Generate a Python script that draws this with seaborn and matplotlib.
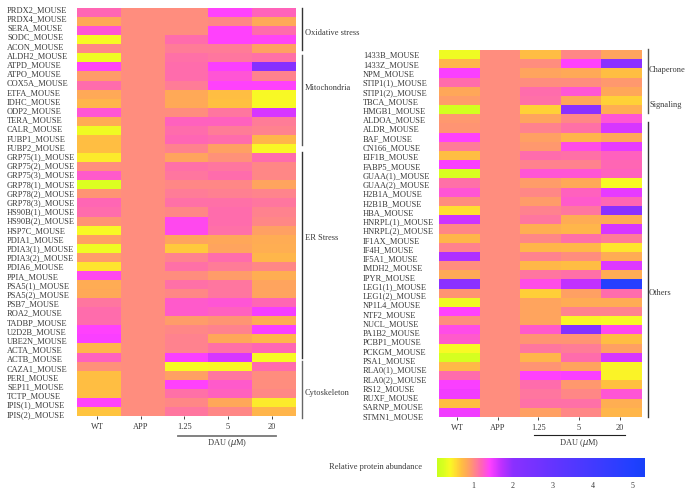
import numpy as np
import pandas as pd
import matplotlib
matplotlib.use("Agg")
import matplotlib.pyplot as plt
from matplotlib.colors import LinearSegmentedColormap
from matplotlib.lines import Line2D
import seaborn as sns

conditions = ["WT", "APP", "1.25", "5", "20"]

left_proteins = ["PRDX2","PRDX4","SERA","SODC","ACON","ALDH2","ATPD","ATPO","COX5A","ETFA","IDHC","ODP2","TERA","CALR","FUBP1","FUBP2",
    "GRP75(1)","GRP75(2)","GRP75(3)","GRP78(1)","GRP78(2)","GRP78(3)","HS90B(1)","HS90B(2)","HSP7C","PDIA1","PDIA3(1)","PDIA3(2)","PDIA6","PPIA",
    "PSA5(1)","PSA5(2)","PSB7","ROA2","TADBP","U2D2B","UBE2N","ACTA","ACTB","CAZA1","PERI","SEP11","TCTP","IPIS(1)","IPIS(2)"]
left_wt = [1.2,.85,1.3,.42,1.03,.38,1.4,.92,1.17,.85,.78,1.3,.83,.38,.71,.71,
    .5,1,1.27,.28,.96,1.2,1.17,.96,.43,.9,.38,.92,.53,1.37,
    .83,.85,1.12,1.17,1.17,1.42,1.45,.78,1.23,.98,.71,.71,.71,1.42,.68]
left_125 = [1,1,1,1.17,1.09,1.15,1.17,1.17,1.09,.85,.85,1,1.23,1.17,1.2,1.06,
    .88,1.15,1.12,1.03,1.09,1.15,1.03,1.37,1.37,.88,.66,1.06,1.15,1,
    1.15,1.03,1.27,1.27,.92,1.03,1.06,1.06,1.45,.42,.9,1.42,1.15,1.03,1.12]
left_5 = [1.42,1.03,1.42,1.42,1.09,1.12,1.45,1.3,1.42,.71,.7,1.12,1.23,1.09,1.17,.9,
    .98,1.12,1.17,1.03,1.07,1.15,1.17,1.17,1.15,.86,.88,1.17,1.09,.92,
    1.12,1.12,1.3,1.23,.96,1.06,.86,1.15,1.6,.44,1.12,1.27,1.23,.86,1.03]
left_20 = [1.22,.85,1.17,1.4,.9,1.15,2.1,1.06,1.42,.43,.43,1.6,1.09,1.06,.77,.44,
    1.17,1.03,1.03,.88,1.05,1.12,1.06,1.03,.9,.83,.82,.77,1.03,.82,
    .88,.88,1.2,1.47,.83,1.45,.78,1.2,.42,1.17,1,1,1.03,.5,.78]

right_proteins = ["1433B","1433Z","NPM","STIP1(1)","STIP1(2)","TBCA","HMGB1","ALDOA","ALDR","BAF","CN166","EIF1B","FABP5","GUAA(1)","GUAA(2)",
    "H2B1A","H2B1B","HBA","HNRPL(1)","HNRPL(2)","IF1AX","IF4H","IF5A1","IMDH2","IPYR","LEG1(1)","LEG1(2)","NP1L4","NTF2","NUCL",
    "PA1B2","PCBP1","PCKGM","PSA1","RLA0(1)","RLA0(2)","RS12","RUXF","SARNP","STMN1"]
right_wt = [.38,.78,1.45,1.17,.86,.92,.2,.94,.96,1.42,1.09,.72,1.45,.26,1.15,
    1.3,1,.56,1.65,1.03,.77,1.06,1.8,1,.85,2.0,.96,.38,1.42,1,
    1.35,1.27,.43,.23,.75,1.17,1.45,1.49,.72,1.49]
right_125 = [.72,1,.88,1,1.17,1.15,.62,.88,1.06,.9,.94,1.17,1.06,1.3,.92,
    1.03,.92,1.06,1.12,.82,1.03,.77,1.06,.75,1.12,1.35,.63,.88,.88,.88,
    1.27,.96,1.12,.78,.96,1.42,1.17,1.12,1.15,.9]
right_5 = [1.03,1.42,.85,1,1.3,.86,2.0,1.03,1.15,.78,1.35,1.15,1.06,1.3,.85,
    1.23,1.27,1.12,.83,.77,1.15,.75,1,.72,1.15,1.7,.9,.83,1.06,.45,
    2.2,.96,1.09,1.17,.88,1.45,.94,1.03,1.15,1.03]
right_20 = [.88,2.0,.71,.94,.86,.62,.82,1.3,1.6,.86,1.53,1.23,1.2,1.23,.42,
    1.53,1.2,2.0,.83,1.6,1.09,.53,.83,1.57,.83,4.8,1.17,.83,1.06,.43,
    1.37,.72,.9,1.6,.46,.46,.7,1.3,.82,.77]

group_labels_left = ["Oxidative stress", "Mitochondria", "ER Stress", "Cytoskeleton"]
group_labels_right = ["Chaperone", "Signaling", "Others"]
colorbar_ticks = [1, 2, 3, 4, 5]

W, H = 692, 493
plt.rcParams["font.family"] = ["Liberation Serif", "DejaVu Serif"]
TEXT = "#3a3a3a"
FS = 6.0

VMIN, VMAX = 0.1, 5.3
anchors = [(0.1, "#C8FF1E"), (0.25, "#D8FF20"), (0.42, "#F8FA24"), (0.55, "#FFE030"),
           (0.7, "#FFC040"), (0.85, "#FFA858"), (1.0, "#FF8C7F"), (1.1, "#FF7A9A"),
           (1.2, "#FF66B4"), (1.3, "#FF55D5"), (1.42, "#FF40FF"), (1.7, "#C030FF"),
           (2.0, "#8A30FF"), (3.0, "#6434FF"), (5.0, "#2040FF"), (5.3, "#1840F8")]
cmap = LinearSegmentedColormap.from_list(
    "abundance", [((v - VMIN) / (VMAX - VMIN), c) for v, c in anchors], N=512)

def frame(x0, y0, x1, y1):
    return [x0 / W, 1 - y1 / H, (x1 - x0) / W, (y1 - y0) / H]

fig = plt.figure(figsize=(W / 100, H / 100), dpi=100)
ax_l = fig.add_axes(frame(77.3, 8, 295.7, 416))
ax_r = fig.add_axes(frame(439, 50, 642, 417))
cax = fig.add_axes(frame(437, 458, 645, 477))

def panel(ax, proteins, cols, label_first, label_step, top, bottom, x_label, cbar):
    n = len(proteins)
    df = pd.DataFrame(dict(zip(conditions, cols)), index=proteins)
    kw = dict(cbar_ax=cax, cbar_kws={"orientation": "horizontal", "ticks": colorbar_ticks}) if cbar else {}
    sns.heatmap(df, ax=ax, cmap=cmap, vmin=VMIN, vmax=VMAX, cbar=cbar, linewidths=0, rasterized=True, **kw)
    row_h = (bottom - top) / n
    ypos = [(label_first + label_step * i - top) / row_h for i in range(n)]
    ax.set_yticks(ypos)
    ax.set_yticklabels([p + "_MOUSE" for p in proteins], rotation=0, ha="left", fontsize=FS, color=TEXT)
    ax.tick_params(axis="y", length=0, pad=x_label * 0.72)
    ax.set_xticks(np.arange(5) + 0.45)
    ax.set_xticklabels(conditions, rotation=0, fontsize=FS, color=TEXT)
    ax.tick_params(axis="x", length=2.2, width=0.7, color="#444444", pad=3)
    ax.set_xlabel("")
    ax.set_ylabel("")

panel(ax_l, left_proteins, [left_wt, [1.0] * 45, left_125, left_5, left_20], 10, 9.2, 8, 416, 70.3, False)
panel(ax_r, right_proteins, [right_wt, [1.0] * 40, right_125, right_5, right_20], 55.7, 9.26, 50, 417, 76, True)

cax.tick_params(axis="x", length=0, pad=3.5, labelsize=FS - 0.2, labelcolor=TEXT)
for s in cax.spines.values():
    s.set_visible(False)

def vline(x, y0, y1, color="#333333", lw=1.0):
    fig.add_artist(Line2D([x / W, x / W], [1 - y0 / H, 1 - y1 / H], color=color, lw=lw))

def hline(x0, x1, y, color="#777777", lw=1.3):
    fig.add_artist(Line2D([x0 / W, x1 / W], [1 - y / H, 1 - y / H], color=color, lw=lw))

def label(x, y, s, ha="left", fs=FS):
    fig.text(x / W, 1 - y / H, s, ha=ha, va="center", fontsize=fs, color=TEXT)

vline(301.5, 8, 50); vline(301.5, 55, 145, "#555555"); vline(301.5, 152, 358); vline(301.5, 361, 418, "#666666")
vline(648, 49, 113, "#555555"); vline(648, 122, 417)
for y, s in zip([33, 88, 238, 393], group_labels_left):
    label(305, y, s)
for y, s in zip([70, 105, 293], group_labels_right):
    label(649, y, s)

hline(178, 276, 436)
hline(534, 625, 435, "#222222", 0.8)
label(227, 443, r"DAU ($\mu$M)", "center")
label(579, 443, r"DAU ($\mu$M)", "center")
label(422, 467, "Relative protein abundance", "right", FS)

fig.savefig("out.png", dpi=100)
